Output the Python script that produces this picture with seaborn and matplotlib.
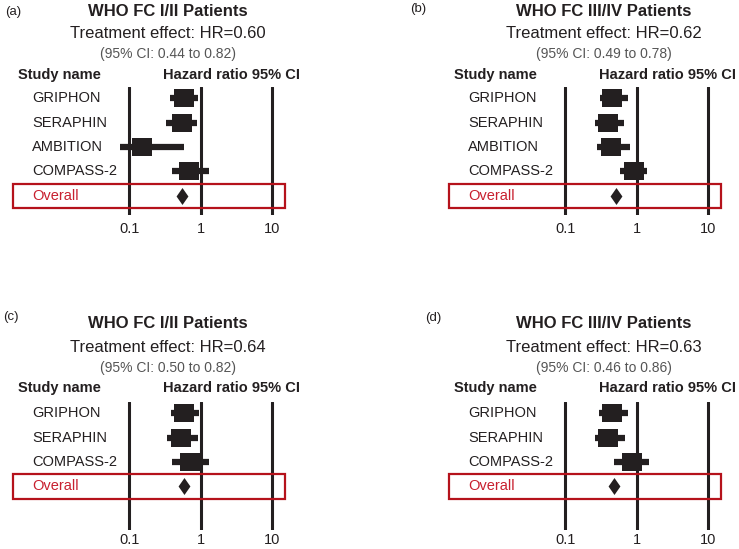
import numpy as np
import pandas as pd
import matplotlib.pyplot as plt
import seaborn as sns
from matplotlib.patches import Rectangle

# valores (hazard ratio e IC 95%)
studies_a = ["GRIPHON", "SERAPHIN", "AMBITION", "COMPASS-2"]
hr_a = [0.59, 0.55, 0.15, 0.68]
lo_a = [0.37, 0.33, 0.074, 0.39]
hi_a = [0.92, 0.88, 0.58, 1.31]
overall_a = 0.55
effect_a = "Treatment effect: HR=0.60"
ci_a = "(95% CI: 0.44 to 0.82)"

studies_b = ["GRIPHON", "SERAPHIN", "AMBITION", "COMPASS-2"]
hr_b = [0.45, 0.40, 0.43, 0.91]
lo_b = [0.31, 0.26, 0.28, 0.58]
hi_b = [0.75, 0.67, 0.80, 1.41]
overall_b = 0.52
effect_b = "Treatment effect: HR=0.62"
ci_b = "(95% CI: 0.49 to 0.78)"

studies_c = ["GRIPHON", "SERAPHIN", "COMPASS-2"]
hr_c = [0.59, 0.53, 0.70]
lo_c = [0.38, 0.34, 0.40]
hi_c = [0.94, 0.91, 1.30]
overall_c = 0.58
effect_c = "Treatment effect: HR=0.64"
ci_c = "(95% CI: 0.50 to 0.82)"

studies_d = ["GRIPHON", "SERAPHIN", "COMPASS-2"]
hr_d = [0.45, 0.39, 0.86]
lo_d = [0.30, 0.26, 0.48]
hi_d = [0.76, 0.68, 1.49]
overall_d = 0.48
effect_d = "Treatment effect: HR=0.63"
ci_d = "(95% CI: 0.46 to 0.86)"

titles = ["WHO FC I/II Patients", "WHO FC III/IV Patients",
          "WHO FC I/II Patients", "WHO FC III/IV Patients"]
tags = ["(a)", "(b)", "(c)", "(d)"]
ref_ticks = [0.1, 1, 10]
tick_labels = ["0.1", "1", "10"]

sns.set_theme(style="white")
plt.rcParams['font.family'] = ['Liberation Sans', 'DejaVu Sans']

W, H = 739, 549
fig = plt.figure(figsize=(W / 100, H / 100), dpi=100)

def fx(px):
    return px / W

def fy(py):
    return 1 - py / H

dark = '#231f20'
red_box = '#b5121b'
red_txt = '#c8202f'

box_marker = [(-1, -0.85), (1, -0.85), (1, 0.85), (-1, 0.85)]
diamond_marker = [(0, 1), (0.7, 0), (0, -1), (-0.7, 0)]

# (esquerda do eixo, topo, base, posições y dos textos, posição do rótulo, pad dos ticks)
layout = [
    (13, 87, 215, [11, 34, 54, 75], (5, 12), 5),
    (449, 87, 215, [11, 34, 54, 75], (410, 9), 5),
    (13, 402, 530, [323, 348, 368, 388], (3, 317), 2.5),
    (449, 402, 530, [323, 348, 368, 388], (425, 318), 2.5),
]
panel_data = [
    (studies_a, hr_a, lo_a, hi_a, overall_a, effect_a, ci_a),
    (studies_b, hr_b, lo_b, hi_b, overall_b, effect_b, ci_b),
    (studies_c, hr_c, lo_c, hi_c, overall_c, effect_c, ci_c),
    (studies_d, hr_d, lo_d, hi_d, overall_d, effect_d, ci_d),
]
axw = 272

for i in range(4):
    left, top, bottom, ty, tagpos, pad = layout[i]
    studies, hr, lo, hi, overall, effect, ci = panel_data[i]
    ax = fig.add_axes([fx(left), fy(bottom), axw / W, (bottom - top) / H])

    df = pd.DataFrame({'study': studies, 'hr': hr, 'lo': lo, 'hi': hi,
                       'row': np.arange(len(studies))})
    n = len(studies)

    ax.set_xscale('log')
    ax.set_xlim(10 ** -2.63, 10 ** 1.18)
    ax.set_ylim(4.8, -0.47)

    for t in ref_ticks:
        ax.axvline(t, color=dark, lw=2.2, zorder=1)

    # linhas do IC + caixas de cada estudo
    ax.hlines(df['row'], df['lo'], df['hi'], color=dark, lw=4.5, zorder=2)
    sns.scatterplot(data=df, x='hr', y='row', ax=ax, marker=box_marker,
                    s=15 ** 2, color=dark, linewidth=0, zorder=3, legend=False)
    ov = pd.DataFrame({'hr': [overall], 'row': [n]})
    sns.scatterplot(data=ov, x='hr', y='row', ax=ax, marker=diamond_marker,
                    s=12.2 ** 2, color=dark, linewidth=0, zorder=3, legend=False)

    trans = ax.get_yaxis_transform()
    for name, r in zip(df['study'], df['row']):
        ax.text(19 / axw, r, name, transform=trans, va='center', ha='left',
                fontsize=10.5, color=dark)
    ax.text(19 / axw, n, 'Overall', transform=trans, va='center', ha='left',
            fontsize=10.5, color=red_txt)
    ax.add_patch(Rectangle((0, n - 0.49), 1, 1.02, transform=trans, fill=False,
                           edgecolor=red_box, lw=1.6, clip_on=False, zorder=4))

    ax.set_xticks(ref_ticks)
    ax.set_xticklabels(tick_labels)
    ax.minorticks_off()
    ax.set_yticks([])
    ax.tick_params(axis='x', length=0, pad=pad, labelsize=10.5, colors=dark)
    ax.set_xlabel('')
    ax.set_ylabel('')
    ax.grid(False)
    sns.despine(ax=ax, left=True, bottom=True)
    ax.patch.set_alpha(0)

    cx = left + 154.5
    fig.text(fx(cx), fy(ty[0]), titles[i], ha='center', va='center',
             fontsize=12, fontweight='bold', color=dark)
    fig.text(fx(cx), fy(ty[1]), effect, ha='center', va='center',
             fontsize=12, color=dark)
    fig.text(fx(cx), fy(ty[2]), ci, ha='center', va='center',
             fontsize=10, color='#555555')
    fig.text(fx(left + 5), fy(ty[3]), 'Study name', ha='left', va='center',
             fontsize=10.5, fontweight='bold', color=dark)
    fig.text(fx(left + 150), fy(ty[3]), 'Hazard ratio 95% CI', ha='left',
             va='center', fontsize=10.5, fontweight='bold', color=dark)
    fig.text(fx(tagpos[0]), fy(tagpos[1]), tags[i], ha='left', va='center',
             fontsize=9.5, color=dark)

fig.savefig('out.png', dpi=100)
